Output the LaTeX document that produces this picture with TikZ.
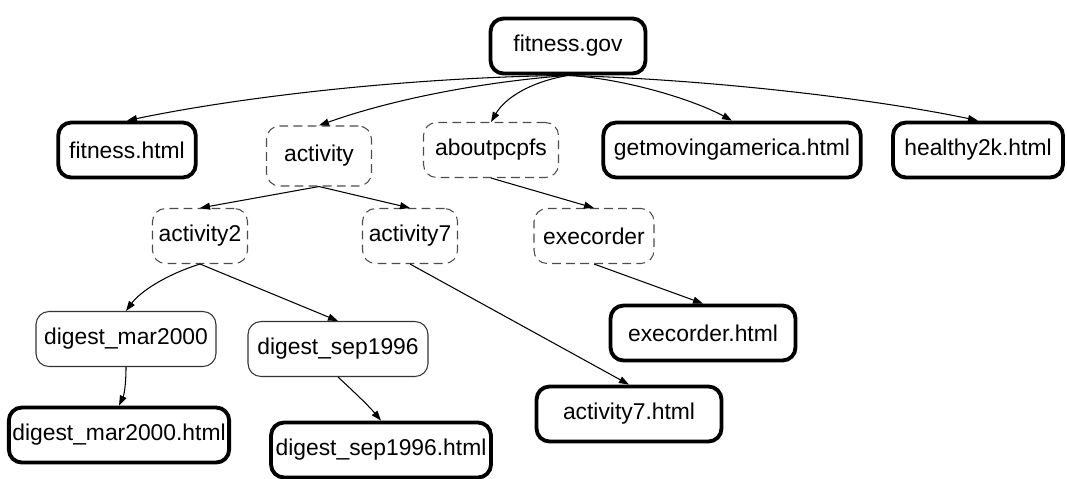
\documentclass[tikz,border=0pt]{standalone}
\usepackage{fontspec}
\setmainfont{Liberation Sans}
\usetikzlibrary{arrows.meta, positioning}

\begin{document}
\begin{tikzpicture}[x=0.02cm, y=-0.02cm,
    >={Triangle[length=0.2cm, width=0.14cm]},
    box/.style={rectangle, rounded corners=0.26cm, minimum height=1.1cm, inner sep=2pt,
        font=\fontsize{13}{15}\selectfont},
    sitebox/.style={box, draw, line width=2.2pt},
    dirbox/.style={box, draw=black!70, dashed, dash pattern=on 5pt off 3pt, line width=0.6pt},
    docbox/.style={box, draw=black!80, line width=0.6pt},
    link/.style={->, line width=0.6pt}]
    \useasboundingbox (0,0) rectangle (1067,478);

    \node[sitebox, minimum width=3.1cm] (gov) at (568,46) {fitness.gov};

    \node[sitebox, minimum width=2.75cm] (fithtml) at (127,150) {fitness.html};
    \node[dirbox, minimum width=2.1cm, minimum height=1.2cm] (activity) at (319,156) {activity};
    \node[dirbox, minimum width=2.7cm] (about) at (491,150) {aboutpcpfs};
    \node[sitebox, minimum width=5.15cm] (getmov) at (732,150) {getmovingamerica.html};
    \node[sitebox, minimum width=3.4cm] (healthy) at (978,150) {healthy2k.html};

    \node[dirbox, minimum width=1.9cm] (act2) at (200,236) {activity2};
    \node[dirbox, minimum width=1.9cm] (act7) at (410,236) {activity7};
    \node[dirbox, minimum width=2.4cm] (execdir) at (594,236) {execorder};

    \node[docbox, minimum width=3.6cm] (mar) at (126,339) {digest\_mar2000};
    \node[docbox, minimum width=3.6cm] (sep) at (338,349) {digest\_sep1996};
    \node[sitebox, minimum width=3.7cm] (exechtml) at (703,333) {execorder.html};

    \node[sitebox, minimum width=4.4cm] (marhtml) at (119,435) {digest\_mar2000.html};
    \node[sitebox, minimum width=4.4cm] (sephtml) at (381,450) {digest\_sep1996.html};
    \node[sitebox, minimum width=3.7cm] (act7html) at (629,414) {activity7.html};

    % top level
    \draw[link] (gov.south) .. controls (420,77) and (250,95) .. (fithtml.north);
    \draw[link] (gov.south) .. controls (480,82) and (390,100) .. (activity.north);
    \draw[link] (gov.south) .. controls (530,82) and (505,98) .. (about.north);
    \draw[link] (gov.south) .. controls (620,78) and (690,98) .. (getmov.north);
    \draw[link] (gov.south) .. controls (720,80) and (880,100) .. (healthy.north);

    % directories
    \draw[link] (activity.south) -- (act2.north);
    \draw[link] (activity.south) -- (act7.north);
    \draw[link] (about.south) -- (execdir.north);
    \draw[link] (execdir.south) -- (exechtml.north);
    \draw[link] (act7.south) -- (act7html.north);

    % digests
    \draw[link] (act2.south) .. controls (165,275) and (140,292) .. (mar.north);
    \draw[link] (act2.south) -- (sep.north);
    \draw[link] (mar.south) .. controls (126,385) and (124,395) .. (marhtml.north);
    \draw[link] (sep.south) .. controls (352,390) and (368,405) .. (sephtml.north);
\end{tikzpicture}
\end{document}
